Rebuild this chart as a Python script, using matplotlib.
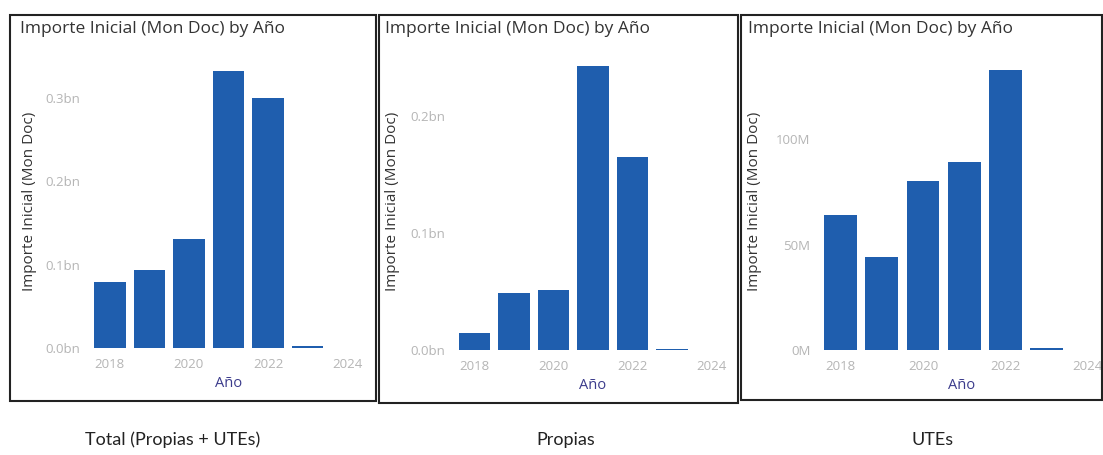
import matplotlib.pyplot as plt
from matplotlib.patches import Rectangle
from matplotlib.ticker import FuncFormatter

# Importe Inicial (Mon Doc) per year, in millions
years = [2018, 2019, 2020, 2021, 2022, 2023]
total = [79, 93, 131, 332, 299, 2]
propias = [14.5, 49, 51, 243, 165, 1]
utes = [64, 44, 80, 89, 133, 1]

captions = ["Total (Propias + UTEs)", "Propias", "UTEs"]
title = "Importe Inicial (Mon Doc) by Año"
xticks = [2018, 2020, 2022, 2024]

W, H = 1103, 455
BAR = "#1f5eae"
TICK = "#b5b5b5"


def bn_fmt(v, pos):
    return "{:.1f}bn".format(v / 1000)


def m_fmt(v, pos):
    return "{:.0f}M".format(v)


fig = plt.figure(figsize=(W / 100, H / 100), dpi=100)
plt.rcParams['font.family'] = ['Open Sans', 'DejaVu Sans']


def px(x0, y0, x1, y1):
    # pixel box (top-left origin) -> figure fraction
    return [x0 / W, 1 - y1 / H, (x1 - x0) / W, (y1 - y0) / H]


# panels: box, axes box, data, ylim, yticks, formatter, xlim right, title x, ylabel x
panels = [
    dict(box=(10, 15, 376, 401), ax=(90, 55, 367, 348), vals=total, ylim=351,
         yticks=[0, 100, 200, 300], fmt=bn_fmt, xr=2024.5, tx=20, yl=30),
    dict(box=(379, 15, 738, 403), ax=(455, 55, 731, 350), vals=propias, ylim=252,
         yticks=[0, 100, 200], fmt=bn_fmt, xr=2024.5, tx=385, yl=393),
    dict(box=(741, 15, 1102, 400), ax=(820, 55, 1103, 350), vals=utes, ylim=140,
         yticks=[0, 50, 100], fmt=m_fmt, xr=2024.37, tx=748, yl=755),
]

for i, p in enumerate(panels):
    bx = px(*p["box"])
    fig.patches.append(Rectangle((bx[0], bx[1]), bx[2], bx[3], transform=fig.transFigure,
                                 fill=False, edgecolor="#222222", linewidth=1.5))
    ax = fig.add_axes(px(*p["ax"]))
    ax.bar(years, p["vals"], width=0.8, color=BAR)
    ax.set_xlim(2017.5, p["xr"])
    ax.set_ylim(0, p["ylim"])
    ax.set_xticks(xticks)
    ax.set_yticks(p["yticks"])
    ax.yaxis.set_major_formatter(FuncFormatter(p["fmt"]))
    ax.tick_params(length=0, labelsize=9.5, colors=TICK, pad=7)
    for s in ax.spines.values():
        s.set_visible(False)
    ax.set_xlabel("Año", fontsize=10.5, color="#3c3c8c", labelpad=4)
    fig.text(p["yl"] / W, 1 - 201 / H, "Importe Inicial (Mon Doc)", rotation=90,
             fontsize=11, color="#333333", ha="center", va="center")
    fig.text(p["tx"] / W, 1 - 29 / H, title, fontsize=12.5, color="#333333",
             ha="left", va="center")
    cx = [173, 566, 933][i]
    fig.text(cx / W, 1 - 440 / H, captions[i], fontsize=13, color="#222222",
             ha="center", va="center", family=["Lato", "DejaVu Sans"])

fig.savefig("out.png", dpi=100, facecolor="white")
